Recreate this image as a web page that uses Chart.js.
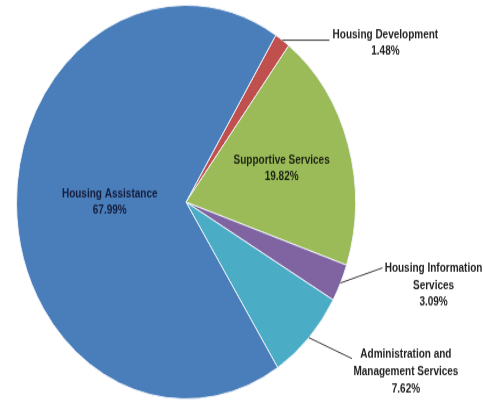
<!DOCTYPE html>
<html>
<head>
<meta charset="utf-8">
<script src="https://cdn.jsdelivr.net/npm/chart.js@4.4.0/dist/chart.umd.min.js"></script>
<style>
  html, body { margin: 0; padding: 0; background: #fff; width: 485px; height: 403px; overflow: hidden; }
  /* the pie is drawn slightly taller than wide: 347 px of drawing stretched to 403 */
  #budgetPie { display: block; width: 485px; height: 403px; }
</style>
</head>
<body>
<canvas id="budgetPie" width="485" height="347" style="width:485px;height:403px"></canvas>
<script>
// budget shares, clockwise from the top
const categories = [
    ["Housing Development"],
    ["Supportive Services"],
    ["Housing Information", "Services"],
    ["Administration and", "Management Services"],
    ["Housing Assistance"]
];
const shares = [1.48, 19.82, 3.09, 7.62, 67.99];
const sliceColors = ["#C0504D", "#9BBB59", "#8064A2", "#4BACC6", "#4A7EBB"];

// where each label goes: inside the slice, or outside with a leader line
const labelSpots = [
    { outside: true, elbow: [47, 0], text: [56, -4], lh: 14 },
    { outside: false, dist: 0.59, color: "#1c2410" },
    { outside: true, elbow: [42, -13], text: [51, 1], lh: 14.3 },
    { outside: true, elbow: [43, 18], text: [54, -3], lh: 15 },
    { outside: false, dist: 0.45, color: "#141c3a" }
];

const pieLabels = {
    id: "pieLabels",
    afterDatasetsDraw(chart) {
        const ctx = chart.ctx;
        const arcs = chart.getDatasetMeta(0).data;
        ctx.save();
        ctx.font = "bold 10px 'Liberation Sans', Arial, sans-serif";
        ctx.textAlign = "center";
        ctx.textBaseline = "middle";
        arcs.forEach((arc, i) => {
            const spot = labelSpots[i];
            const mid = (arc.startAngle + arc.endAngle) / 2;
            const lines = categories[i].concat([shares[i].toFixed(2) + "%"]);
            if (spot.outside) {
                const ex = arc.x + Math.cos(mid) * arc.outerRadius;
                const ey = arc.y + Math.sin(mid) * arc.outerRadius;
                const lx = ex + spot.elbow[0];
                const ly = ey + spot.elbow[1];
                ctx.strokeStyle = "#3a3a3a";
                ctx.lineWidth = 1;
                ctx.beginPath();
                ctx.moveTo(ex, ey);
                ctx.lineTo(lx, ly);
                ctx.stroke();
                ctx.fillStyle = "#222";
                lines.forEach((t, k) => {
                    ctx.fillText(t, lx + spot.text[0], ly + spot.text[1] + k * spot.lh);
                });
            } else {
                const r = arc.outerRadius * spot.dist;
                const cx = arc.x + Math.cos(mid) * r;
                const cy = arc.y + Math.sin(mid) * r;
                ctx.fillStyle = spot.color;
                lines.forEach((t, k) => {
                    ctx.fillText(t, cx, cy + (k - (lines.length - 1) / 2) * 14);
                });
            }
        });
        ctx.restore();
    }
};

new Chart(document.getElementById("budgetPie").getContext("2d"), {
    type: "pie",
    data: {
        labels: categories.map(c => c.join(" ")),
        datasets: [{
            data: shares,
            backgroundColor: sliceColors,
            borderColor: "#eef2f8",
            borderWidth: 1
        }]
    },
    options: {
        responsive: false,
        animation: false,
        rotation: 32,
        layout: { padding: { left: 16, right: 129, top: 4, bottom: 3 } },
        plugins: {
            legend: { display: false },
            tooltip: { enabled: false }
        }
    },
    plugins: [pieLabels]
});
</script>
</body>
</html>
